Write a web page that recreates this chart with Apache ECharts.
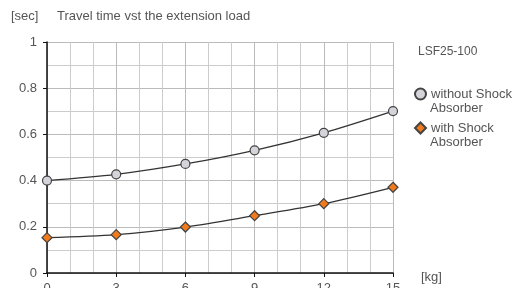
<!DOCTYPE html>
<html><head><meta charset="utf-8">
<script src="https://cdn.jsdelivr.net/npm/echarts@6/dist/echarts.min.js"></script>
<style>html,body{margin:0;padding:0;background:#fff}#c{width:518px;height:288px}</style>
</head><body><div id="c"></div>
<script>
const loads = [0, 3, 6, 9, 12, 15];
const withoutShock = [0.40, 0.427, 0.472, 0.531, 0.607, 0.701];
const withShock = [0.153, 0.166, 0.199, 0.248, 0.300, 0.371];
const seriesNames = ['without Shock Absorber', 'with Shock Absorber'];
const legendFirstLine = {'without Shock Absorber': 'without Shock', 'with Shock Absorber': 'with Shock'};
const legendSecondLine = 'Absorber';

const font = 'Helvetica, "Liberation Sans", Arial, sans-serif';
const txt = '#555';
const chart = echarts.init(document.getElementById('c'), null, {renderer: 'canvas'});
chart.setOption({
  animation: false,
  textStyle: {fontFamily: font},
  title: [
    {text: '[sec]', left: 6, top: 5, textStyle: {fontSize: 13, fontWeight: 'normal', color: txt, fontFamily: font}},
    {text: 'Travel time vst the extension load', left: 52, top: 5, textStyle: {fontSize: 13, fontWeight: 'normal', color: txt, fontFamily: font}},
    {text: 'LSF25-100', left: 413, top: 41, textStyle: {fontSize: 12, fontWeight: 'normal', color: txt, fontFamily: font}},
    {text: '[kg]', left: 416, top: 266, textStyle: {fontSize: 13, fontWeight: 'normal', color: txt, fontFamily: font}}
  ],
  legend: {
    orient: 'vertical', left: 414, top: 87, itemWidth: 11, itemHeight: 11, itemGap: 20, padding: 0,
    data: [{name: seriesNames[0], icon: 'circle'}, {name: seriesNames[1], icon: 'diamond'}],
    formatter: n => legendFirstLine[n],
    textStyle: {fontSize: 13, color: txt, lineHeight: 14, fontFamily: font}
  },
  graphic: [
    {type: 'text', left: 430, top: 102, style: {text: legendSecondLine, fontSize: 13, fill: txt, fontFamily: font}},
    {type: 'text', left: 430, top: 136, style: {text: legendSecondLine, fontSize: 13, fill: txt, fontFamily: font}}
  ],
  grid: {left: 47, right: 125, top: 42, bottom: 15, outerBoundsMode: 'none', containLabel: false},
  xAxis: {
    type: 'value', min: 0, max: 15, interval: 3,
    axisLine: {lineStyle: {color: '#111', width: 1.5}},
    axisTick: {show: true, length: 4, lineStyle: {color: '#111'}},
    axisLabel: {fontSize: 13, color: txt, margin: 9},
    splitLine: {lineStyle: {color: '#bbb'}},
    minorTick: {show: false, splitNumber: 3},
    minorSplitLine: {show: true, lineStyle: {color: '#ccc'}}
  },
  yAxis: {
    type: 'value', min: 0, max: 1, interval: 0.2,
    axisLine: {show: true, lineStyle: {color: '#111', width: 1.5}},
    axisTick: {show: true, length: 4, lineStyle: {color: '#111'}},
    axisLabel: {fontSize: 13, color: txt, margin: 10, formatter: v => String(Math.round(v * 10) / 10)},
    splitLine: {lineStyle: {color: '#bbb'}},
    minorTick: {show: false, splitNumber: 2},
    minorSplitLine: {show: true, lineStyle: {color: '#ccc'}}
  },
  series: [
    {name: seriesNames[0], type: 'line', smooth: 0.3, data: loads.map((x, i) => [x, withoutShock[i]]),
     symbol: 'circle', symbolSize: 9, lineStyle: {color: '#333', width: 1.3},
     itemStyle: {color: '#d4d4da', borderColor: '#444', borderWidth: 1.2}},
    {name: seriesNames[1], type: 'line', smooth: 0.3, data: loads.map((x, i) => [x, withShock[i]]),
     symbol: 'diamond', symbolSize: 10, lineStyle: {color: '#333', width: 1.3},
     itemStyle: {color: '#f07a1c', borderColor: '#444', borderWidth: 1.2}}
  ]
});
</script></body></html>
